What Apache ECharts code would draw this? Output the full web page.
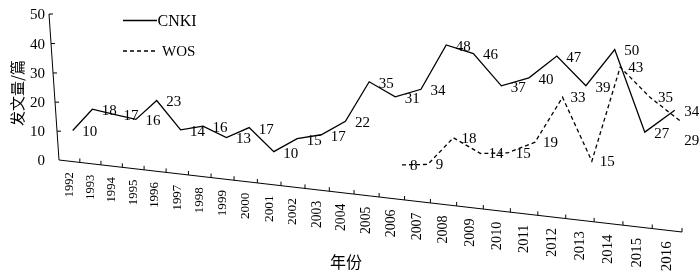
<!DOCTYPE html>
<html>
<head>
<meta charset="utf-8">
<script src="https://cdn.jsdelivr.net/npm/echarts/dist/echarts.min.js"></script>
<style>
html, body { margin: 0; padding: 0; background: #fff; }
#chart { width: 700px; height: 274px; }
</style>
</head>
<body>
<div id="chart"></div>
<script>
var years = ['1992', '1993', '1994', '1995', '1996', '1997', '1998', '1999', '2000', '2001',
  '2002', '2003', '2004', '2005', '2006', '2007', '2008', '2009', '2010', '2011',
  '2012', '2013', '2014', '2015', '2016'];
var cnki = [10, 18, 17, 16, 23, 14, 16, 13, 17, 10, 15, 17, 22, 35, 31, 34, 48, 46, 37, 40, 47, 39, 50, 27, 34];
var wos = [null, null, null, null, null, null, null, null, null, null, null, null, null, null,
  8, 9, 18, 14, 15, 19, 33, 15, 43, 35, 29];
var yTicks = [0, 10, 20, 30, 40, 50];
var seriesNames = ['CNKI', 'WOS'];

var serif = '"Liberation Serif", "Times New Roman", serif';
var cjk = '"Noto Sans CJK SC", sans-serif';

// the flat grid is bent into the slanted (perspective) picture
// corners: bottom-left, bottom-right, top-right, top-left
var quad = [[59, 160], [682, 232], [682, 57], [49, 14]];
var warp = makeWarp(quad);

function makeWarp(q) {
  var x0 = q[0][0], y0 = q[0][1], x1 = q[1][0], y1 = q[1][1];
  var x2 = q[2][0], y2 = q[2][1], x3 = q[3][0], y3 = q[3][1];
  var dx1 = x1 - x2, dx2 = x3 - x2, dx3 = x0 - x1 + x2 - x3;
  var dy1 = y1 - y2, dy2 = y3 - y2, dy3 = y0 - y1 + y2 - y3;
  var den = dx1 * dy2 - dx2 * dy1;
  var g = (dx3 * dy2 - dx2 * dy3) / den;
  var h = (dx1 * dy3 - dx3 * dy1) / den;
  var a = x1 - x0 + g * x1, b = x3 - x0 + h * x3;
  var d = y1 - y0 + g * y1, e = y3 - y0 + h * y3;
  return function (u, v) {
    var w = g * u + h * v + 1;
    return [(a * u + b * v + x0) / w, (d * u + e * v + y0) / w, w];
  };
}

// flat pixel from the grid -> picture pixel; shift = depth of the row
function toPic(cs, p, shift) {
  var u = (p[0] + shift[0] - cs.x) / cs.width;
  var v = (cs.y + cs.height - p[1] - shift[1]) / cs.height;
  return warp(u, v);
}

var axisRow = [0, 0];
var cnkiRow = [6.5, -2.4];
var wosRow = [11, -8.5];

function txt(x, y, s, size, align, font, rot) {
  return {
    type: 'text', x: x, y: y, rotation: rot || 0,
    style: {
      text: s, fontSize: size, fontFamily: font || serif, fill: '#000',
      align: align, textAlign: align, verticalAlign: 'middle', textVerticalAlign: 'middle'
    }
  };
}

function seg(x1, y1, x2, y2) {
  return { type: 'line', shape: { x1: x1, y1: y1, x2: x2, y2: y2 }, style: { stroke: '#000', lineWidth: 1 } };
}

function renderAxis(params, api) {
  var cs = params.coordSys;
  var i = api.value(0);
  var half = api.size([1, 0])[0] / 2;
  var c = api.coord([i, 0]);
  var kids = [];
  var r = toPic(cs, [c[0] + half, c[1]], axisRow);
  kids.push(seg(r[0], r[1], r[0], r[1] - 4));
  var m = toPic(cs, c, axisRow);
  kids.push(txt(m[0], m[1] + 11, years[i], 12.5 / m[2], 'right', serif, Math.PI / 2));
  if (i === 0) {
    var l = toPic(cs, [c[0] - half, c[1]], axisRow);
    var last = api.coord([years.length - 1, 0]);
    var end = toPic(cs, [last[0] + half, last[1]], axisRow);
    kids.push(seg(l[0], l[1], end[0], end[1]));
    var top = toPic(cs, [c[0] - half, api.coord([0, yTicks[yTicks.length - 1]])[1]], axisRow);
    kids.push(seg(l[0], l[1], top[0], top[1]));
    yTicks.forEach(function (t) {
      var p = toPic(cs, [c[0] - half, api.coord([0, t])[1]], axisRow);
      if (t > 0) kids.push(seg(p[0], p[1], p[0] + 4, p[1]));
      kids.push(txt(l[0] - 14, p[1] + 1, String(t), 15, 'right'));
    });
  }
  return { type: 'group', children: kids };
}

function labelBox(cs, api, k, v, row, dx, dy) {
  var p = toPic(cs, api.coord([k, v]), row);
  var w = String(v).length * 7.5;
  return { x: p[0] + dx, y: p[1] + dy - 7, w: w, h: 14, px: p[0], py: p[1] };
}

function overlap(a, b) {
  return a.x < b.x + b.w && b.x < a.x + a.w && a.y < b.y + b.h && b.y < a.y + a.h;
}

function lineRenderer(values, row, dash, dx, dy, avoid) {
  return function (params, api) {
    var cs = params.coordSys;
    var kids = [];
    if (params.dataIndex === 0) {
      var pts = [];
      values.forEach(function (v, k) {
        if (v != null) {
          var p = toPic(cs, api.coord([k, v]), row);
          pts.push([p[0], p[1]]);
        }
      });
      kids.push({
        type: 'polyline', shape: { points: pts },
        style: { stroke: '#000', fill: 'none', lineWidth: 1.3, lineDash: dash }
      });
    }
    var k = api.value(0), v = api.value(1);
    var box = labelBox(cs, api, k, v, row, dx, dy);
    if (avoid && avoid.values[k] != null) {
      var other = labelBox(cs, api, k, avoid.values[k], avoid.row, avoid.dx, avoid.dy);
      if (overlap(box, other)) {
        box.x = box.px + 4;
        box.y = box.py + 13;
      }
    }
    kids.push(txt(box.x, box.y + 7, String(v), 15, 'left'));
    return { type: 'group', children: kids };
  };
}

function pairs(values) {
  var out = [];
  values.forEach(function (v, k) { if (v != null) out.push([k, v]); });
  return out;
}

var chart = echarts.init(document.getElementById('chart'));
chart.setOption({
  animation: false,
  color: ['#000'],
  grid: { left: 59, top: 14, width: 623, height: 146 },
  xAxis: { type: 'category', data: years, boundaryGap: true, show: false },
  yAxis: { type: 'value', min: 0, max: 50, show: false },
  graphic: [
    { type: 'line', shape: { x1: 123, y1: 20.5, x2: 157, y2: 20.5 }, style: { stroke: '#000', lineWidth: 1.3 } },
    txt(157.5, 21.5, seriesNames[0], 16, 'left'),
    { type: 'line', shape: { x1: 123, y1: 51, x2: 157, y2: 51 }, style: { stroke: '#000', lineWidth: 1.3, lineDash: [4, 3] } },
    txt(162, 52, seriesNames[1], 15, 'left'),
    txt(346, 262, '年份', 16, 'center', cjk),
    txt(17, 93, '发文量/篇', 15, 'center', cjk, Math.PI / 2)
  ],
  series: [
    {
      type: 'custom', silent: true,
      data: years.map(function (y, k) { return [k, 0]; }),
      renderItem: renderAxis
    },
    {
      name: seriesNames[0], type: 'custom', silent: true,
      data: pairs(cnki),
      renderItem: lineRenderer(cnki, cnkiRow, null, 9.5, 2)
    },
    {
      name: seriesNames[1], type: 'custom', silent: true,
      data: pairs(wos),
      renderItem: lineRenderer(wos, wosRow, [4, 3], 8, 1,
        { values: cnki, row: cnkiRow, dx: 9.5, dy: 2 })
    }
  ]
});
</script>
</body>
</html>
